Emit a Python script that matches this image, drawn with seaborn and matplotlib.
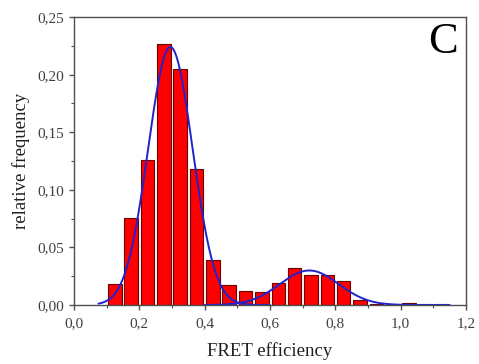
import numpy as np
import pandas as pd
import matplotlib
matplotlib.use("Agg")
import matplotlib.pyplot as plt
import seaborn as sns

# ---- data ----
bin_edges = [0.10, 0.15, 0.20, 0.25, 0.30, 0.35, 0.40, 0.45, 0.50, 0.55, 0.60,
             0.65, 0.70, 0.75, 0.80, 0.85, 0.90, 0.95, 1.00, 1.05, 1.10, 1.15]
rel_freq = [0.018, 0.076, 0.126, 0.227, 0.205, 0.118, 0.039, 0.0176, 0.0124, 0.0115,
            0.019, 0.032, 0.026, 0.0257, 0.021, 0.0045, 0.0005, 0.0005, 0.002, 0.0005, 0.0012]

# Gaussian fit components: amplitude, centre, sigma, x-range drawn
fit_amp = [0.224, 0.030]
fit_center = [0.295, 0.72]
fit_sigma = [0.068, 0.09]
fit_xmin = [0.075, 0.40]
fit_xmax = [0.60, 1.15]

x_ticks = [0.0, 0.2, 0.4, 0.6, 0.8, 1.0, 1.2]
x_ticklabels = ["0,0", "0,2", "0,4", "0,6", "0,8", "1,0", "1,2"]
y_ticks = [0.00, 0.05, 0.10, 0.15, 0.20, 0.25]
y_ticklabels = ["0,00", "0,05", "0,10", "0,15", "0,20", "0,25"]

# ---- figure ----
sns.set_style("ticks")
plt.rcParams["font.family"] = ["Liberation Serif", "DejaVu Serif"]

fig = plt.figure(figsize=(4.79, 3.64), dpi=100)
ax = fig.add_axes([0.1545, 0.162, 0.8185, 0.791])

centers = [(bin_edges[i] + bin_edges[i + 1]) / 2 for i in range(len(rel_freq))]
df = pd.DataFrame({"x": centers, "w": rel_freq})
sns.histplot(data=df, x="x", weights="w", bins=bin_edges, shrink=0.82,
             color="#ff0000", edgecolor="#6a0000", linewidth=0.8, alpha=1.0, ax=ax)

for a, c, s, lo, hi in zip(fit_amp, fit_center, fit_sigma, fit_xmin, fit_xmax):
    xs = np.linspace(lo, hi, 300)
    ys = a * np.exp(-((xs - c) ** 2) / (2 * s ** 2))
    sns.lineplot(x=xs, y=ys, color="#2222cc", linewidth=1.4, ax=ax)

ax.set_xlim(0.0, 1.2)
ax.set_ylim(0.0, 0.25)
ax.set_xticks(x_ticks)
ax.set_xticklabels(x_ticklabels)
ax.set_yticks(y_ticks)
ax.set_yticklabels(y_ticklabels)
ax.set_xticks(np.arange(0.1, 1.2, 0.2), minor=True)
ax.set_yticks(np.arange(0.025, 0.25, 0.05), minor=True)

tick_col = "#505050"
for sp in ax.spines.values():
    sp.set_visible(True)
    sp.set_color(tick_col)
    sp.set_linewidth(1.0)
ax.tick_params(which="major", direction="out", length=3.6, width=1.0, color=tick_col,
               labelsize=11, labelcolor="#404040")
ax.tick_params(axis="x", which="major", pad=5)
ax.tick_params(axis="y", which="major", pad=3.5)
ax.tick_params(which="minor", direction="out", length=2.5, width=0.8, color=tick_col)

ax.set_xlabel("FRET efficiency", fontsize=13.5, color="#202020", labelpad=9)
ax.set_ylabel("relative frequency", fontsize=13.5, color="#202020", labelpad=5)

ax.text(0.94, 0.915, "C", transform=ax.transAxes, fontsize=32,
        ha="center", va="center", color="black")

fig.savefig("out.png", dpi=100)
